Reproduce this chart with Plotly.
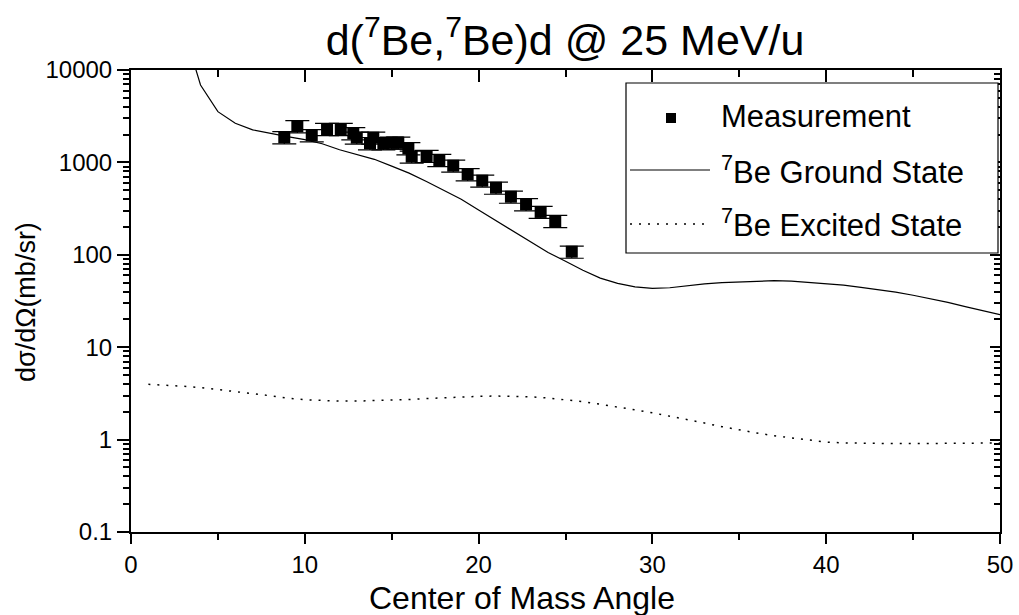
import plotly.graph_objects as go

# Measured elastic cross sections (centre-of-mass angle in degrees, mb/sr)
meas_angle = [8.82, 9.57, 10.40, 11.28, 12.07, 12.79, 12.99, 13.75, 13.94, 14.52,
              15.00, 15.38, 15.96, 16.15, 17.01, 17.74, 18.54, 19.37, 20.21, 21.00,
              21.86, 22.73, 23.57, 24.41, 25.36]
meas_xsec = [1870, 2460, 1965, 2297, 2297, 2065, 1851, 1610, 1851, 1610,
             1634, 1634, 1421, 1153, 1173, 1061, 921, 743, 634, 532,
             425, 352, 291, 232, 108]
meas_err_pct = 15

# Calculated angular distribution, 7Be ground state
gs_angle = list(range(3, 51))
gs_xsec = [29000, 6880, 3540, 2650, 2250, 2050, 1900, 1760, 1590, 1370,
           1220, 1080, 910, 765, 620, 500, 400, 305, 235, 178,
           137, 106, 85, 68, 56, 49, 45, 43.4, 44, 46.5,
           48.5, 50, 51, 52, 52.5, 52, 50.5, 49, 47, 44.5,
           42, 39.5, 36.5, 33.5, 30.5, 27.5, 25, 22.5]

# Calculated angular distribution, 7Be excited state
ex_angle = list(range(1, 51))
ex_xsec = [3.96, 3.88, 3.78, 3.65, 3.49, 3.33, 3.15, 2.98, 2.81, 2.70,
           2.64, 2.61, 2.61, 2.63, 2.67, 2.72, 2.78, 2.85, 2.90, 2.94,
           2.96, 2.95, 2.90, 2.82, 2.71, 2.57, 2.41, 2.26, 2.10, 1.95,
           1.80, 1.65, 1.51, 1.38, 1.27, 1.18, 1.10, 1.04, 0.98, 0.94,
           0.92, 0.91, 0.905, 0.905, 0.905, 0.905, 0.905, 0.91, 0.915, 0.92]

y_tick_vals = [0.1, 1, 10, 100, 1000, 10000]
y_tick_text = ["0.1", "1", "10", "100", "1000", "10000"]
x_tick_vals = [0, 10, 20, 30, 40, 50]

legend_labels = ["Measurement", "<sup>7</sup>Be Ground State", "<sup>7</sup>Be Excited State"]

FONT = "Liberation Sans, Arial, Helvetica, sans-serif"
W, H = 1019, 615
L, T, PW, PH = 131, 70, 869, 462


def px(xp):
    return (xp - L) / PW


def py(yp):
    return 1 - (yp - T) / PH


minor_logs = [k * 10 ** n for n in range(-1, 4) for k in range(2, 10)]

fig = go.Figure()

fig.add_trace(go.Scatter(
    x=gs_angle, y=gs_xsec, mode="lines",
    line=dict(color="black", width=1.2), showlegend=False, hoverinfo="skip"))

fig.add_trace(go.Scatter(
    x=ex_angle, y=ex_xsec, mode="lines",
    line=dict(color="black", width=1.5, dash="2px,7px"), showlegend=False, hoverinfo="skip"))

fig.add_trace(go.Scatter(
    x=meas_angle, y=meas_xsec, mode="markers",
    marker=dict(symbol="square", size=12, color="black", line=dict(width=0)),
    error_y=dict(type="percent", value=meas_err_pct, color="black", thickness=1.2, width=12),
    showlegend=False))

# companion axes carrying the inward ticks on the top and right frame
fig.add_trace(go.Scatter(x=[None], y=[None], xaxis="x2", yaxis="y2",
                         showlegend=False, hoverinfo="skip"))

axis_font = dict(family=FONT, size=24, color="black")

fig.update_layout(
    width=W, height=H, autosize=False, showlegend=False,
    margin=dict(l=L, r=W - L - PW, t=T, b=H - T - PH, autoexpand=False),
    paper_bgcolor="white", plot_bgcolor="white",
    font=dict(family=FONT, color="black"),
    title=dict(text="d(<sup>7</sup>Be,<sup>7</sup>Be)d @ 25 MeV/u",
               font=dict(family=FONT, size=43, color="black"),
               x=565 / W, xanchor="center", xref="container",
               y=1 - 40 / H, yanchor="middle", yref="container"),
    xaxis=dict(range=[0, 50], tickvals=x_tick_vals, ticks="outside", ticklen=10,
               tickwidth=2, tickcolor="black", showline=True, linewidth=2,
               linecolor="black", showgrid=False, zeroline=False, tickfont=axis_font,
               automargin=False,
               minor=dict(tickvals=[5, 15, 25, 35, 45], ticks="outside", ticklen=6,
                          tickwidth=1.5, tickcolor="black", showgrid=False)),
    xaxis2=dict(range=[0, 50], overlaying="x", side="top", tickvals=x_tick_vals,
                ticks="inside", ticklen=12, tickwidth=2, tickcolor="black",
                showticklabels=False, showline=True, linewidth=2, linecolor="black",
                showgrid=False, zeroline=False, automargin=False,
                minor=dict(tickvals=[5, 15, 25, 35, 45], ticks="inside", ticklen=7,
                           tickwidth=1.5, tickcolor="black", showgrid=False)),
    yaxis=dict(type="log", range=[-1, 4], tickvals=y_tick_vals, ticktext=y_tick_text,
               ticks="outside", ticklen=12, tickwidth=2, tickcolor="black",
               showline=True, linewidth=2, linecolor="black", showgrid=False,
               zeroline=False, tickfont=axis_font, automargin=False,
               minor=dict(tickvals=minor_logs, ticks="outside", ticklen=6,
                          tickwidth=1.5, tickcolor="black", showgrid=False)),
    yaxis2=dict(type="log", range=[-1, 4], overlaying="y", side="right",
                tickvals=y_tick_vals, ticks="inside", ticklen=10, tickwidth=2,
                tickcolor="black", showticklabels=False, showline=True, linewidth=2,
                linecolor="black", showgrid=False, zeroline=False, automargin=False,
                minor=dict(tickvals=minor_logs, ticks="inside", ticklen=6,
                           tickwidth=1.5, tickcolor="black", showgrid=False)),
)

# axis titles
fig.add_annotation(text="Center of Mass Angle", xref="paper", yref="paper",
                   x=px(522), y=py(598), xanchor="center", yanchor="middle",
                   showarrow=False, font=dict(family=FONT, size=32, color="black"))
fig.add_annotation(text="dσ/dΩ(mb/sr)", xref="paper", yref="paper",
                   x=px(26), y=py(302), xanchor="center", yanchor="middle",
                   textangle=-90, showarrow=False,
                   font=dict(family=FONT, size=27, color="black"))

# legend box with its samples and labels
fig.add_shape(type="rect", xref="paper", yref="paper",
              x0=px(626), x1=px(998), y0=py(253), y1=py(83),
              line=dict(color="black", width=1.2), fillcolor="white", layer="above")
fig.add_shape(type="rect", xref="paper", yref="paper",
              x0=px(666), x1=px(676), y0=py(123), y1=py(113),
              line=dict(width=0), fillcolor="black", layer="above")
fig.add_shape(type="line", xref="paper", yref="paper",
              x0=px(630), x1=px(710), y0=py(170), y1=py(170),
              line=dict(color="black", width=1.2), layer="above")
fig.add_shape(type="line", xref="paper", yref="paper",
              x0=px(630), x1=px(710), y0=py(224), y1=py(224),
              line=dict(color="black", width=1.5, dash="2px,7px"), layer="above")
for label, ypix in zip(legend_labels, [117, 170, 223]):
    fig.add_annotation(text=label, xref="paper", yref="paper",
                       x=px(719), y=py(ypix), xanchor="left", yanchor="middle",
                       showarrow=False, font=dict(family=FONT, size=31, color="black"))

fig.write_html("out.html")
